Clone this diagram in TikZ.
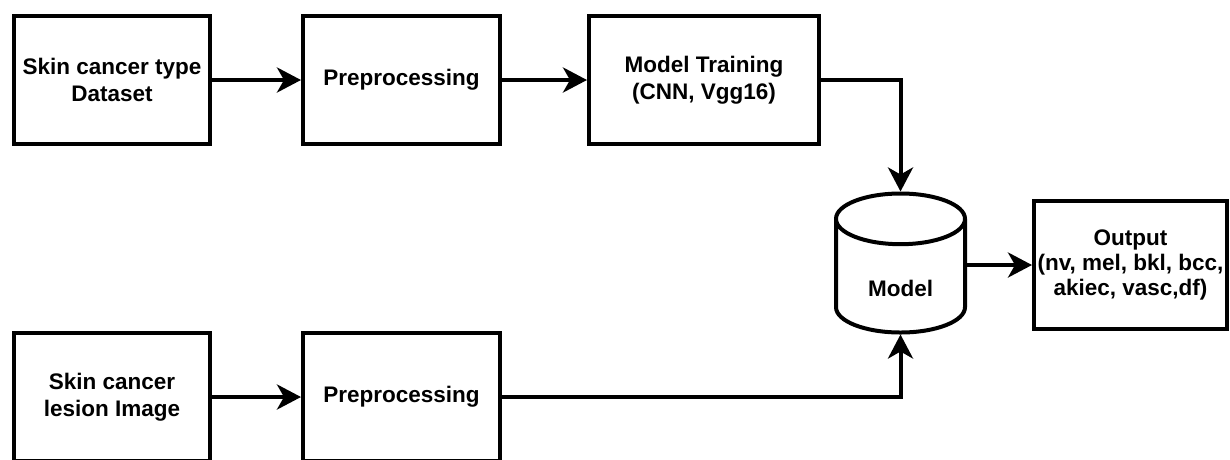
\documentclass[tikz,border=0pt]{standalone}
\usepackage{fontspec}
\setmainfont{Liberation Sans}
\usetikzlibrary{arrows.meta,shapes.geometric}

\tikzset{
  stage/.style={draw, line width=4pt, minimum height=128.5pt, inner sep=0pt,
    align=center, font=\bfseries\fontsize{22.5}{27}\selectfont},
  store/.style={cylinder, shape border rotate=90, draw, line width=4pt,
    minimum width=129pt, minimum height=139pt, aspect=0.78, inner sep=0pt,
    text height=40pt, text depth=0pt,
    font=\bfseries\fontsize{22.5}{27}\selectfont},
  flow/.style={line width=4pt, -{Stealth[length=24pt,width=25pt,inset=7pt]}},
}

\begin{document}
\begin{tikzpicture}[x=1pt,y=-1pt]
    \useasboundingbox (0,0) rectangle (1230,459);

    % training branch
    \node[stage, minimum width=196pt] (data) at (112,80) {Skin cancer type\\Dataset};
    \node[stage, minimum width=197pt] (prepA) at (401.5,80) {Preprocessing};
    \node[stage, minimum width=230pt] (train) at (704,80) {Model Training\\(CNN, Vgg16)};

    % trained model and its prediction
    \node[store, anchor=shape center] (model) at (900.5,263) {Model};
    \node[stage, minimum width=193pt, font=\bfseries\fontsize{22.5}{25}\selectfont]
        (out) at (1130.5,265) {Output\\(nv, mel, bkl, bcc,\\akiec, vasc,df)};

    % input branch
    \node[stage, minimum width=196pt] (lesion) at (112,397) {Skin cancer\\lesion Image};
    \node[stage, minimum width=197pt] (prepB) at (401.5,397) {Preprocessing};

    \draw[flow] (data) -- (prepA);
    \draw[flow] (prepA) -- (train);
    \draw[flow] (train.east) -| (model.north);
    \draw[flow] (out.west -| model.east) -- (out.west);
    \draw[flow] (lesion) -- (prepB);
    \draw[flow] (prepB.east) -| (model.south);
\end{tikzpicture}
\end{document}
